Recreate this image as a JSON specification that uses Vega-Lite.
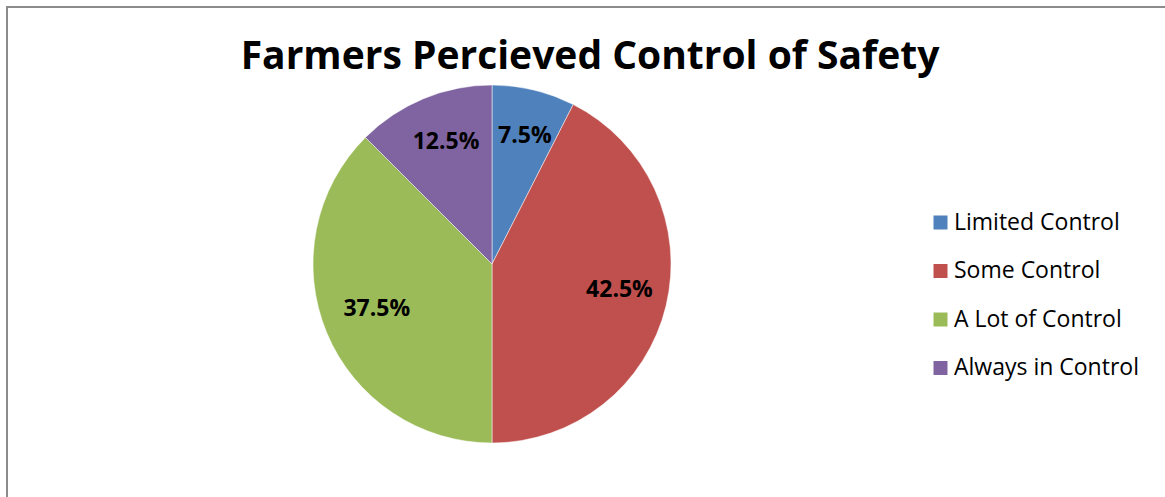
{
  "$schema": "https://vega.github.io/schema/vega-lite/v6.json",
  "autosize": "none",
  "width": 1166,
  "height": 498,
  "padding": {"left": 7, "top": 7, "right": -8, "bottom": -8},
  "background": "white",
  "view": {"stroke": "#8c8c8c", "strokeWidth": 2},
  "title": {
    "text": "Farmers Percieved Control of  Safety",
    "font": "Open Sans",
    "fontWeight": "bold",
    "fontSize": 39,
    "color": "black",
    "anchor": "middle",
    "baseline": "alphabetic",
    "offset": -101,
    "dx": 0
  },
  "data": {
    "values": [
      {"category": "Limited Control", "pct": 7.5, "label": "7.5%", "idx": 1},
      {"category": "Some Control", "pct": 42.5, "label": "42.5%", "idx": 2},
      {"category": "A Lot of Control", "pct": 37.5, "label": "37.5%", "idx": 3},
      {"category": "Always in Control", "pct": 12.5, "label": "12.5%", "idx": 4}
    ]
  },
  "encoding": {
    "theta": {"field": "pct", "type": "quantitative", "stack": true},
    "order": {"field": "idx", "type": "quantitative"}
  },
  "layer": [
    {
      "mark": {"type": "arc", "outerRadius": 179, "stroke": "white", "strokeWidth": 0.5, "xOffset": -98, "yOffset": 8},
      "encoding": {
        "color": {
          "field": "category",
          "type": "nominal",
          "sort": ["Limited Control", "Some Control", "A Lot of Control", "Always in Control"],
          "scale": {
            "domain": ["Limited Control", "Some Control", "A Lot of Control", "Always in Control"],
            "range": ["#4F81BD", "#C0504D", "#9BBB59", "#8064A2"]
          },
          "legend": {
            "title": null,
            "orient": "none",
            "legendX": 922,
            "legendY": 204,
            "padding": 0,
            "symbolType": "square",
            "symbolSize": 196,
            "symbolStrokeWidth": 0,
            "labelFont": "Open Sans",
            "labelFontSize": 23,
            "labelColor": "black",
            "labelOffset": 2,
            "rowPadding": 24.5,
            "labelLimit": 400
          }
        }
      }
    },
    {
      "mark": {"type": "text", "radius": 128, "font": "Open Sans", "fontWeight": "bold", "fontSize": 23, "color": "black", "align": "center", "baseline": "middle", "xOffset": -95, "yOffset": 4},
      "encoding": {
        "text": {"field": "label", "type": "nominal"}
      }
    }
  ]
}
